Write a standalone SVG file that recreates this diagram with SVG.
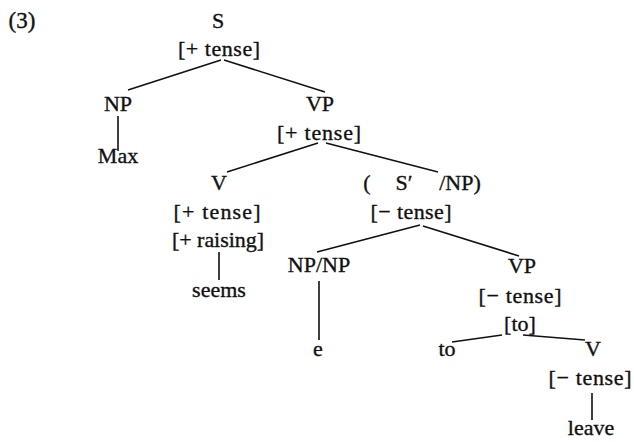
<svg xmlns="http://www.w3.org/2000/svg" width="634" height="442" viewBox="0 0 634 442">
<style>
text{font-family:"Liberation Serif","Times New Roman",serif;font-size:22px;fill:#111;stroke:#111;stroke-width:0.35;text-anchor:middle}
.l{stroke:#111;stroke-width:1.6;fill:none}
</style>
<rect width="634" height="442" fill="#fff"/>
<text x="22" y="28" style="font-size:23px">(3)</text>
<g id="S"><text x="218" y="28">S</text><text x="219" y="56" textLength="82" lengthAdjust="spacing">[+ tense]</text></g>
<g id="NP1"><text x="118" y="111">NP</text></g>
<g id="Max"><text x="118" y="163">Max</text></g>
<g id="VP1"><text x="320" y="111">VP</text><text x="319" y="140" textLength="84" lengthAdjust="spacing">[+ tense]</text></g>
<g id="V1"><text x="219" y="190">V</text><text x="217" y="219" textLength="87" lengthAdjust="spacing">[+ tense]</text><text x="218" y="247" textLength="92" lengthAdjust="spacing">[+ raising]</text></g>
<g id="seems"><text x="219" y="297">seems</text></g>
<g id="Sbar"><text x="367" y="190">(</text><text x="404" y="190">S′</text><text x="460" y="190">/NP)</text><text x="411" y="219" textLength="81" lengthAdjust="spacing">[− tense]</text></g>
<g id="NPNP"><text x="319" y="272">NP/NP</text></g>
<g id="e"><text x="318" y="356">e</text></g>
<g id="VP2"><text x="522" y="273">VP</text><text x="520" y="303" textLength="83" lengthAdjust="spacing">[− tense]</text><text x="520" y="331">[to]</text></g>
<g id="to"><text x="447" y="356">to</text></g>
<g id="V2"><text x="593" y="356">V</text><text x="590" y="385" textLength="83" lengthAdjust="spacing">[− tense]</text></g>
<g id="leave"><text x="591" y="435">leave</text></g>
<g id="connectors">
<path class="l" d="M221 60L128 90M224 60L325 92M118 116V151M318 143L227 172M326 143L438 172M219 252V280M420 225L317 252M423 226L519 256M319 281V340M502 335L452 342M523 335L585 340M592 393V420"/>
</g>
</svg>
